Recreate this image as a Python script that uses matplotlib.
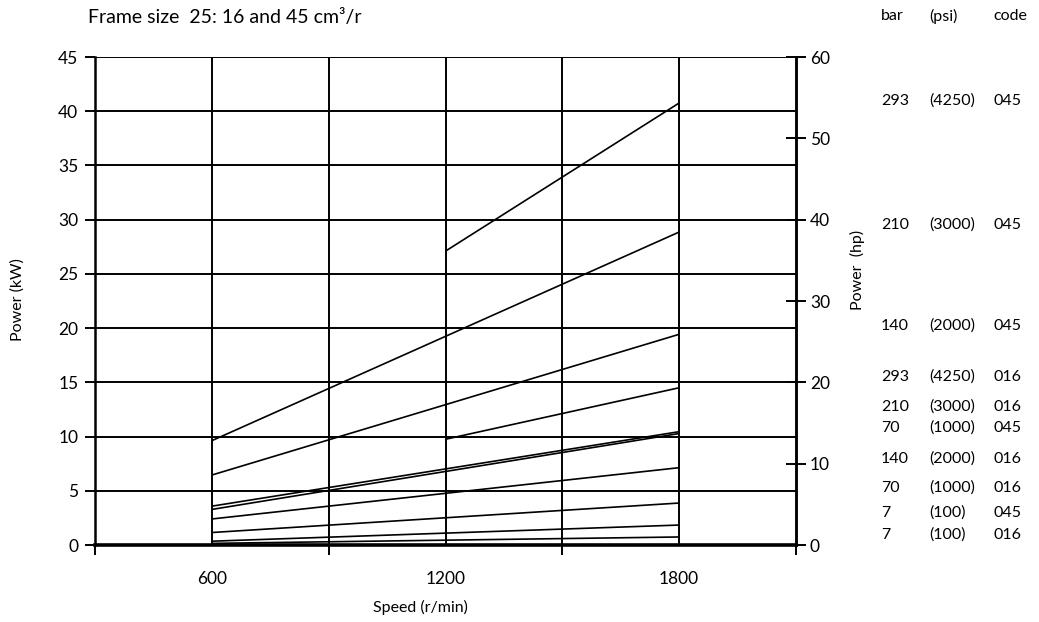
import numpy as np
import matplotlib
matplotlib.use("Agg")
import matplotlib.pyplot as plt

plt.rcParams['font.family'] = ['Lato', 'DejaVu Sans']

# ---------- data ----------
# curves from 600 to 1800 r/min (power in kW)
speed_full = [600, 1800]
power_full = [
    [9.62, 28.86],   # 210 bar, 045
    [6.45, 19.43],   # 140 bar, 045
    [3.58, 10.45],   # 210 bar, 016
    [3.28, 10.28],   # 70 bar, 045
    [2.40, 7.13],    # 140 bar, 016
    [1.15, 3.87],    # 70 bar, 016
    [0.35, 1.84],    # 7 bar, 045
    [0.15, 0.74],    # 7 bar, 016
]
# curves starting at 1200 r/min
speed_part = [1200, 1800]
power_part = [
    [27.1, 40.76],   # 293 bar, 045
    [9.75, 14.50],   # 293 bar, 016
]

bar_labels = ["293", "210", "140", "293", "210", "70", "140", "70", "7", "7"]
psi_labels = ["(4250)", "(3000)", "(2000)", "(4250)", "(3000)", "(1000)",
              "(2000)", "(1000)", "(100)", "(100)"]
code_labels = ["045", "045", "045", "016", "016", "045", "016", "016", "045", "016"]
# label rows, pixel y from top of figure
label_rows_px = [101, 225, 326, 377, 407, 428, 459, 488, 513, 535]

W, H = 1039, 622

# ---------- plotting ----------
fig = plt.figure(figsize=(W / 100, H / 100), dpi=100)
ax = fig.add_axes([95 / W, 1 - 545 / H, 701 / W, 488 / H])

for y in power_full:
    ax.plot(speed_full, y, color='black', lw=1.2, solid_capstyle='butt')
for y in power_part:
    ax.plot(speed_part, y, color='black', lw=1.2, solid_capstyle='butt')

ax.set_xlim(300, 2100)
ax.set_ylim(0, 45)

# grid
for gx in [600, 900, 1200, 1500, 1800]:
    ax.axvline(gx, color='black', lw=1.4, zorder=1)
for gy in range(5, 46, 5):
    ax.axhline(gy, color='black', lw=1.4, zorder=1)

for s in ['left', 'right']:
    ax.spines[s].set_linewidth(1.8)
ax.spines['bottom'].set_linewidth(2.6)
ax.spines['top'].set_visible(False)

ax.set_yticks(range(0, 46, 5))
ax.tick_params(axis='y', direction='out', length=7, width=1.4, pad=5, labelsize=12.5)
ax.set_xticks([600, 1200, 1800])
ax.set_xticklabels(["600", "1200", "1800"])
ax.tick_params(axis='x', which='major', length=0, pad=19, labelsize=12.5)
ax.set_xticks([300, 900, 1500, 2100], minor=True)
ax.tick_params(axis='x', which='minor', direction='out', length=7, width=1.4)

ax2 = ax.twinx()
ax2.set_ylim(0, 60)
ax2.set_yticks(range(0, 61, 10))
ax2.tick_params(axis='y', direction='inout', length=14, width=1.4, pad=3, labelsize=12.5)
for s in ['left', 'top', 'bottom']:
    ax2.spines[s].set_visible(False)
ax2.spines['right'].set_linewidth(1.8)

# axis labels
fig.text(420 / W, 1 - 607 / H, "Speed (r/min)", ha='center', va='center', fontsize=11.5)
fig.text(18 / W, 1 - 300 / H, "Power (kW)", ha='center', va='center', rotation=90, fontsize=11.5)
fig.text(857 / W, 1 - 270 / H, "Power  (hp)", ha='center', va='center', rotation=90, fontsize=11.5)

# title
fig.text(88 / W, 1 - 18 / H, "Frame size  25: 16 and 45 cm\u00b3/r", ha='left', va='center', fontsize=14)

# right-hand table
col_x = [881, 929, 993]
for txt, x in zip(["bar", "(psi)", "code"], col_x):
    fig.text(x / W, 1 - 16 / H, txt, ha='left', va='center', fontsize=11.5)
for b, p, c, ypx in zip(bar_labels, psi_labels, code_labels, label_rows_px):
    for txt, x in zip([b, p, c], col_x):
        fig.text(x / W, 1 - ypx / H, txt, ha='left', va='center', fontsize=11.5)

fig.savefig("out.png", dpi=100)
